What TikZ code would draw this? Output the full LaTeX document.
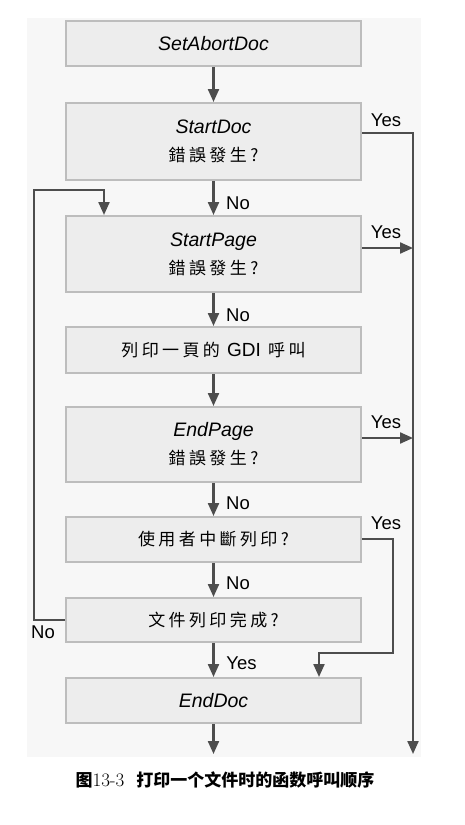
\documentclass[tikz,border=0pt]{standalone}
\usepackage{fontspec}
\usetikzlibrary{arrows.meta}
\newfontfamily\latfont{Liberation Sans}
\newfontfamily\tcfont[LetterSpace=20]{Noto Sans CJK TC}
\newfontfamily\scfont{Noto Sans CJK SC}
\definecolor{panel}{HTML}{F7F7F7}
\definecolor{boxfill}{HTML}{EDEDED}
\definecolor{boxline}{HTML}{BDBDBD}
\definecolor{arr}{HTML}{4D4D4D}
\newcommand{\cjtext}[1]{{\upshape\tcfont\fontsize{17}{20}\selectfont #1}}
\tikzset{
  fbox/.style={draw=boxline, line width=2pt, fill=boxfill, minimum width=295pt,
    inner sep=0pt, align=center, font=\latfont\fontsize{19.5}{26}\selectfont\itshape},
  flow/.style={draw=arr, line width=2.2pt, -{Triangle[length=13pt,width=11pt]}},
  lab/.style={font=\latfont\fontsize{18.5}{20}\selectfont, text=black, inner sep=0pt},
}
\begin{document}
\begin{tikzpicture}[x=1pt,y=-1pt]
\useasboundingbox (0,0) rectangle (465,825);
\fill[panel] (27,18) rectangle (421,757);

\node[fbox, minimum height=45pt] (sad) at (213.5,43.5) {SetAbortDoc};
\node[fbox, minimum height=77pt] (sd) at (213.5,141.5) {StartDoc\\[2pt]\cjtext{錯誤發生?}};
\node[fbox, minimum height=76pt] (sp) at (213.5,254) {StartPage\\[2pt]\cjtext{錯誤發生?}};
\node[fbox, minimum height=46pt] (gdi) at (213.5,350) {\cjtext{列印一頁的 {\latfont\fontsize{19}{20}\selectfont GDI} 呼叫}};
\node[fbox, minimum height=75pt] (ep) at (213.5,444.5) {EndPage\\[2pt]\cjtext{錯誤發生?}};
\node[fbox, minimum height=45pt] (ua) at (213.5,539.5) {\cjtext{使用者中斷列印?}};
\node[fbox, minimum height=44pt] (fin) at (213.5,620) {\cjtext{文件列印完成?}};
\node[fbox, minimum height=45pt] (ed) at (213.5,700.5) {EndDoc};

\coordinate (dend) at (213.5,754);
\coordinate (r1) at (413,133);
\coordinate (rend) at (413,754);
\coordinate (r2) at (413,248);
\coordinate (r3) at (413,438);
\coordinate (u1) at (393,539);
\coordinate (u2) at (393,653);
\coordinate (u3) at (319,653);
\coordinate (l1) at (34,620);
\coordinate (l2) at (34,190);
\coordinate (l3) at (104,190);

\draw[flow] (sad) -- (sd);
\draw[flow] (sd) -- (sp);
\draw[flow] (sp) -- (gdi);
\draw[flow] (gdi) -- (ep);
\draw[flow] (ep) -- (ua);
\draw[flow] (ua) -- (fin);
\draw[flow] (fin) -- (ed);
\draw[flow] (ed) -- (dend);

\draw[flow] (sd.east |- r1) -- (r1) -- (rend);
\draw[flow] (sp.east |- r2) -- (r2);
\draw[flow] (ep.east |- r3) -- (r3);
\draw[flow] (ua.east |- u1) -- (u1) -- (u2) -- (u3) -- (u3 |- ed.north);
\draw[flow] (fin.west) -- (l1) -- (l2) -- (l3) -- (l3 |- sp.north);

\node[lab] (y1) at (386,120) {Yes};
\node[lab] (y2) at (386,232) {Yes};
\node[lab] (y3) at (386,422) {Yes};
\node[lab] (y4) at (386,523) {Yes};
\node[lab] (n1) at (238,203) {No};
\node[lab] (n2) at (238,315) {No};
\node[lab] (n3) at (238,503) {No};
\node[lab] (n4) at (238,583) {No};
\node[lab] (y5) at (241.5,663) {Yes};
\node[lab] (n5) at (43,632) {No};

\node (cap) at (225,780) {\scfont\bfseries\fontsize{17}{20}\selectfont 图{\rmfamily\mdseries\fontsize{19}{20}\selectfont 13-3}\hspace{12pt}打印一个文件时的函数呼叫顺序};
\end{tikzpicture}
\end{document}
